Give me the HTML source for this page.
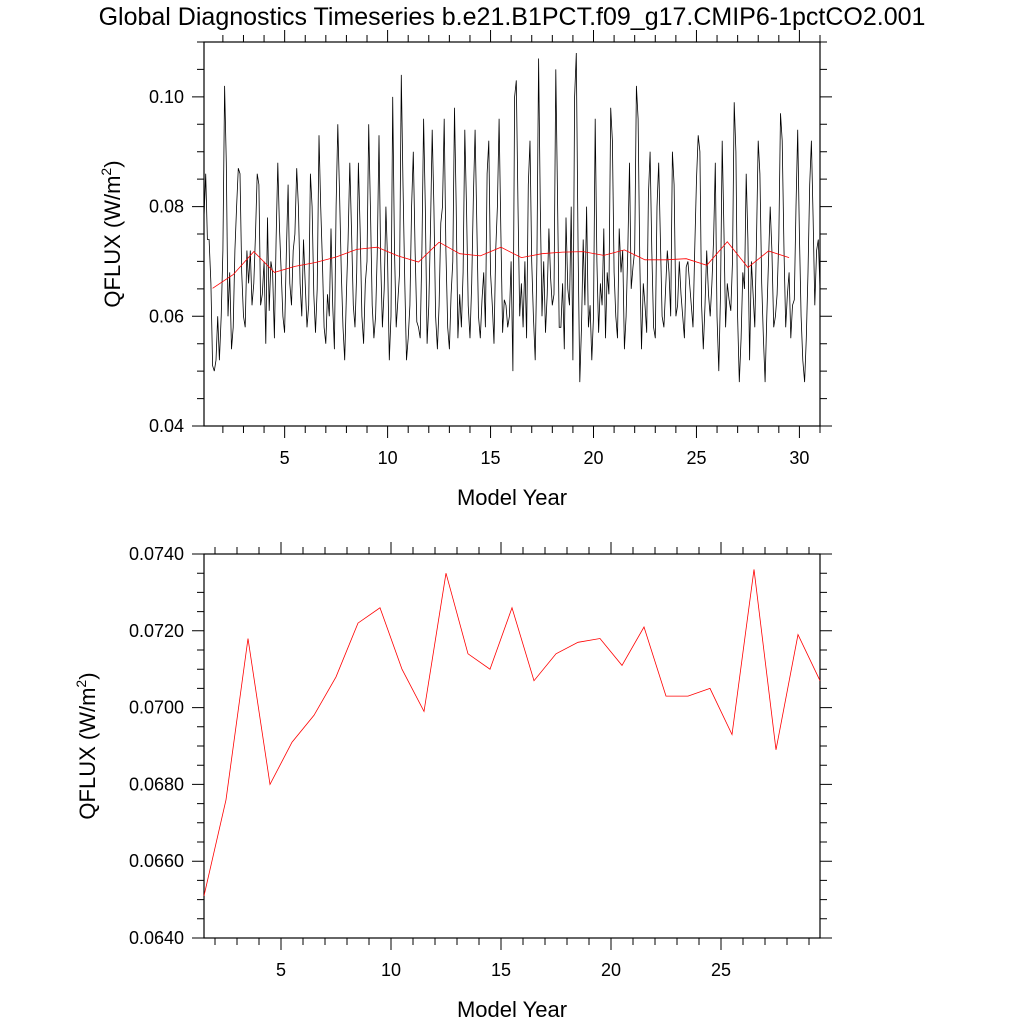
<!DOCTYPE html>
<html><head><meta charset="utf-8"><style>
html,body{margin:0;padding:0;background:#fff;}
svg text{font-family:"Liberation Sans",Arial,sans-serif;fill:#000;}
</style></head><body>
<svg id="chart" width="1024" height="1024" viewBox="0 0 1024 1024" xmlns="http://www.w3.org/2000/svg">
<text x="512" y="25" font-size="25" text-anchor="middle">Global Diagnostics Timeseries b.e21.B1PCT.f09_g17.CMIP6-1pctCO2.001</text>
<g id="gtop"></g>
<g id="gbot"></g>
</svg>
<script>
const monthly = [
78,86,74,74,66,51,50,52,60,52,60,72,
102,88,60,68,54,58,72,80,87,86,68,60,
58,72,66,72,62,66,75,86,84,62,64,70,
55,78,61,70,68,56,74,88,76,68,60,57,
72,84,66,62,72,75,87,80,66,60,74,66,
58,62,86,80,64,57,65,93,80,70,58,55,
64,60,76,62,54,80,95,82,68,58,52,64,
74,88,75,62,58,68,88,76,60,55,66,70,
95,80,62,56,60,72,93,70,58,65,80,70,
52,60,100,72,58,63,68,104,84,66,52,56,
62,80,90,72,59,58,56,72,96,80,55,62,
76,94,80,60,54,62,77,80,96,72,58,54,
64,70,98,80,56,64,58,68,94,80,62,56,
66,82,94,77,60,56,63,68,58,86,92,68,
62,55,72,80,96,76,57,63,62,58,60,70,
50,100,103,80,60,66,58,70,56,84,92,70,
60,52,70,107,80,60,70,57,64,76,67,62,
64,105,82,58,58,66,54,78,65,62,80,52,
100,108,72,48,58,74,62,80,58,62,52,60,
96,70,57,66,62,76,56,68,64,98,92,68,
60,56,76,68,72,54,60,72,88,65,69,72,
102,96,70,54,66,62,57,82,90,72,58,56,
80,88,74,60,58,65,72,68,60,90,84,60,
62,70,64,60,56,69,70,66,62,58,72,85,
93,90,62,54,62,72,64,60,66,74,88,60,
50,64,92,76,58,66,63,61,70,99,90,60,
48,56,68,65,86,74,52,70,64,58,74,92,
86,66,56,48,60,70,80,72,58,60,64,74,
97,92,72,58,64,68,56,62,63,80,94,75,
60,52,48,56,68,84,92,78,62,72,74,65];
const annual = [0.0651,0.0676,0.0718,0.0680,0.0691,0.0698,0.0708,0.0722,0.0726,0.0710,0.0699,0.0735,0.0714,0.0710,0.0726,0.0707,0.0714,0.0717,0.0718,0.0711,0.0721,0.0703,0.0703,0.0705,0.0693,0.0736,0.0689,0.0719,0.0707];
const topYTicks = ["0.04","0.06","0.08","0.10"];
const botYTicks = ["0.0640","0.0660","0.0680","0.0700","0.0720","0.0740"];
const topXTicks = [5,10,15,20,25,30];
const botXTicks = [5,10,15,20,25];

const NS="http://www.w3.org/2000/svg";
function mk(parent,tag,attrs){const e=document.createElementNS(NS,tag);for(const k in attrs)e.setAttribute(k,attrs[k]);parent.appendChild(e);return e;}
const PL=204,PR=820;

function panel(g,yTop,yBot,x0,x1,y0,y1,yMajor,yMinor,yLabels,xLabels,labelX){
  const sx=v=>PL+(v-x0)/(x1-x0)*(PR-PL);
  const sy=v=>yBot-(v-y0)/(y1-y0)*(yBot-yTop);
  const box=mk(g,'rect',{x:PL,y:yTop,width:PR-PL,height:yBot-yTop,fill:'none',stroke:'#000','stroke-width':1.2});
  
  
  for(let v=Math.ceil(x0);v<=x1;v++){
    const x=sx(v),len=(v%5===0)?12:7;
    const t=mk(g,'path',{d:`M${x},${yBot}v${len}M${x},${yTop}v${-len}`,stroke:'#000','stroke-width':1});
    
    
  }
  xLabels.forEach(v=>{
    const t=mk(g,'text',{x:sx(v),y:yBot+38,'font-size':18,'text-anchor':'middle'});t.textContent=v;
    
    
  });
  const nMin=Math.round((y1-y0)/yMinor);
  for(let i=0;i<=nMin;i++){
    const v=y0+i*yMinor,y=sy(v);
    const r=(v-y0)/yMajor;
    const major=Math.abs(r-Math.round(r))<1e-6;
    const len=major?12:7;
    const t=mk(g,'path',{d:`M${PL},${y}h${-len}M${PR},${y}h${len}`,stroke:'#000','stroke-width':1});
    
    
  }
  yLabels.forEach(s=>{
    const t=mk(g,'text',{x:PL-20,y:sy(parseFloat(s))+6,'font-size':18,'text-anchor':'end'});t.textContent=s;
    
    
  });
  const xt=mk(g,'text',{x:512,y:yBot+79,'font-size':22,'text-anchor':'middle'});xt.textContent='Model Year';
  
  
  const cy=(yTop+yBot)/2;
  const yt=mk(g,'text',{x:labelX,y:cy,'font-size':22,'text-anchor':'middle',transform:`rotate(-90 ${labelX} ${cy})`});
  yt.innerHTML='QFLUX (W/m<tspan font-size="14" dy="-9">2</tspan><tspan dy="9">)</tspan>';
  
  
  return {sx,sy};
}

const gTop=document.getElementById('gtop');
const A=panel(gTop,42,426,1.083,31,0.04,0.11,0.02,0.005,topYTicks,topXTicks,120);
let d='';
monthly.forEach((v,i)=>{d+=(i?'L':'M')+A.sx(1.083+i/12).toFixed(1)+','+A.sy(v/1000).toFixed(1);});
const ml=mk(gTop,'path',{d,fill:'none',stroke:'#000','stroke-width':0.8});


d='';
annual.forEach((v,i)=>{d+=(i?'L':'M')+A.sx(i+1.5).toFixed(1)+','+A.sy(v).toFixed(1);});
const al=mk(gTop,'path',{d,fill:'none',stroke:'#f00','stroke-width':0.8});



const gBot=document.getElementById('gbot');
const B=panel(gBot,554,938,1.5,29.5,0.064,0.074,0.002,0.0005,botYTicks,botXTicks,95);
d='';
annual.forEach((v,i)=>{d+=(i?'L':'M')+B.sx(i+1.5).toFixed(1)+','+B.sy(v).toFixed(1);});
const bl=mk(gBot,'path',{d,fill:'none',stroke:'#f00','stroke-width':0.8});


</script>
</body></html>
